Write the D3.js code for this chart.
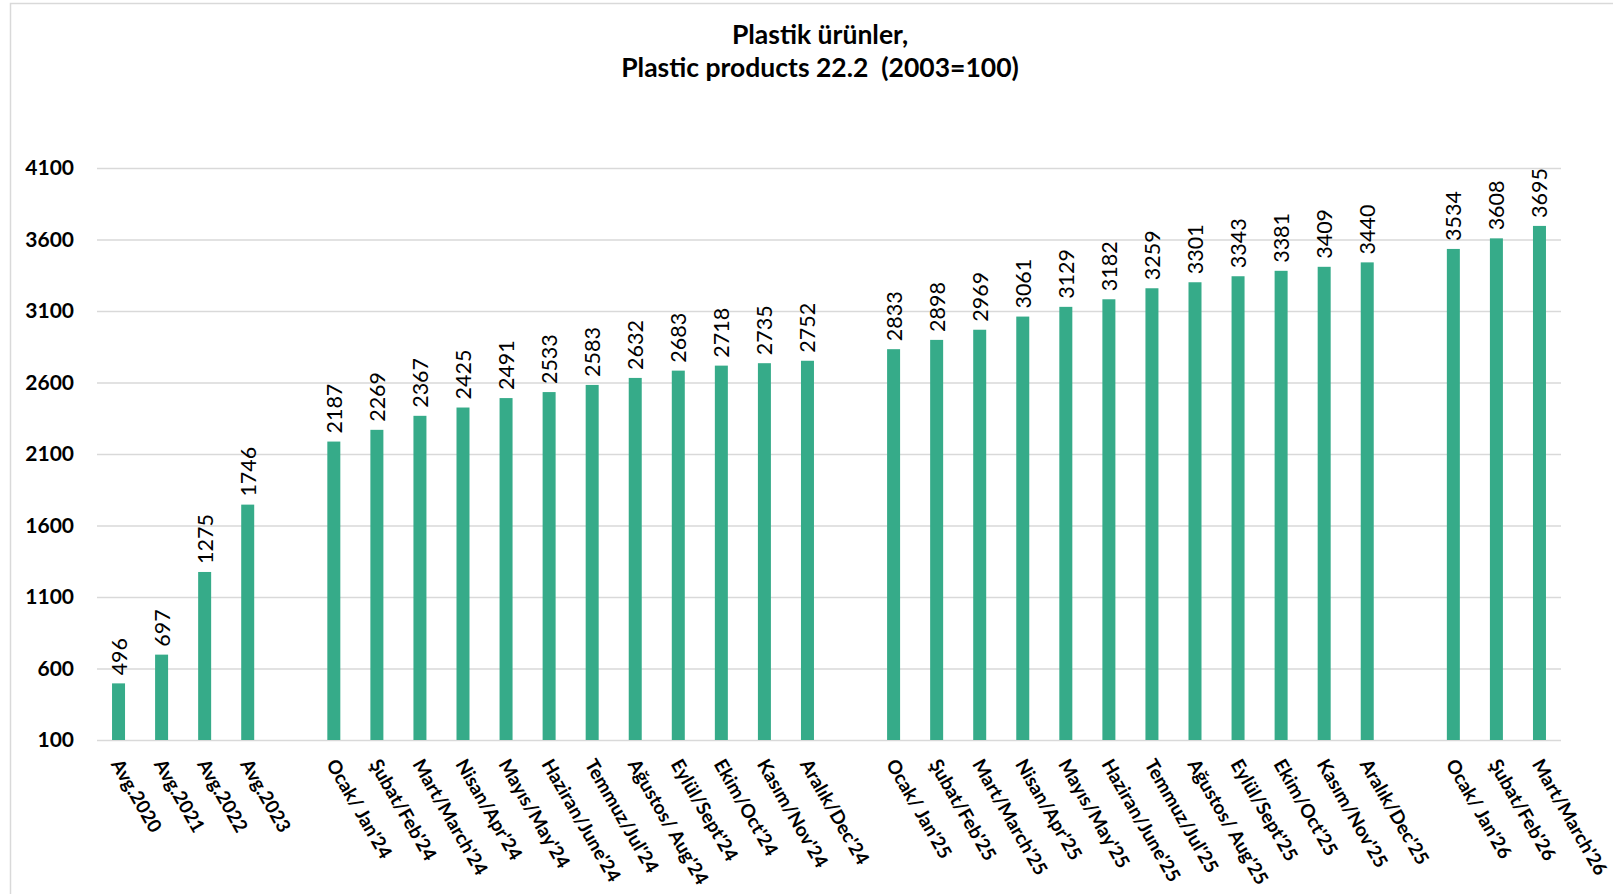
<!DOCTYPE html>
<html>
<head>
<meta charset="utf-8">
<script src="https://cdn.jsdelivr.net/npm/d3@7"></script>
<style>
  body { margin: 0; background: #fff; }
  text { font-family: Lato, "Noto Sans", sans-serif; }
</style>
</head>
<body>
<script>
  // kategoriler ("" = boşluk)
  let categories = [
    'Avg.2020', 'Avg.2021', 'Avg.2022', 'Avg.2023', '',
    'Ocak/ Jan\'24', 'Şubat/Feb\'24', 'Mart/March\'24', 'Nisan/Apr\'24', 'Mayıs/May\'24', 'Haziran/June\'24',
    'Temmuz/Jul\'24', 'Ağustos/ Aug\'24', 'Eylül/Sept\'24', 'Ekim/Oct\'24', 'Kasım/Nov\'24', 'Aralık/Dec\'24', '',
    'Ocak/ Jan\'25', 'Şubat/Feb\'25', 'Mart/March\'25', 'Nisan/Apr\'25', 'Mayıs/May\'25', 'Haziran/June\'25',
    'Temmuz/Jul\'25', 'Ağustos/ Aug\'25', 'Eylül/Sept\'25', 'Ekim/Oct\'25', 'Kasım/Nov\'25', 'Aralık/Dec\'25', '',
    'Ocak/ Jan\'26', 'Şubat/Feb\'26', 'Mart/March\'26'
  ];
  let values = [
    496, 697, 1275, 1746, null,
    2187, 2269, 2367, 2425, 2491, 2533, 2583, 2632, 2683, 2718, 2735, 2752, null,
    2833, 2898, 2969, 3061, 3129, 3182, 3259, 3301, 3343, 3381, 3409, 3440, null,
    3534, 3608, 3695
  ];
  let yTicks = [100, 600, 1100, 1600, 2100, 2600, 3100, 3600, 4100];
  let titleLines = ['Plastik ürünler,', 'Plastic products 22.2  (2003=100)'];

  let W = 1613, H = 894;
  let svg = d3.select('body').append('svg').attr('width', W).attr('height', H);

  // çerçeve
  svg.append('rect')
    .attr('x', 10.5).attr('y', 3.5).attr('width', W + 20).attr('height', H + 20)
    .style('fill', 'none').style('stroke', '#d9d9d9').style('stroke-width', 1.5);

  let pL = 97, pR = 1561, pT = 168, pB = 740;

  let x = d3.scaleBand().domain(d3.range(categories.length)).range([pL, pR]).padding(0);
  let y = d3.scaleLinear().domain([100, 4100]).range([pB, pT]);
  let barW = 13;

  // başlık
  svg.selectAll('.title').data(titleLines).enter().append('text')
    .attr('x', 820).attr('y', function (d, i) { return 44 + i * 33; })
    .attr('text-anchor', 'middle')
    .style('white-space', 'pre')
    .style('font-size', '26.5px').style('font-weight', 'bold').style('fill', '#000')
    .text(function (d) { return d; });

  // grid
  let yAxis = d3.axisLeft(y).tickValues(yTicks).tickFormat(d3.format('d'))
    .tickSize(-(pR - pL)).tickPadding(23);
  let gy = svg.append('g').attr('transform', 'translate(' + pL + ',0)').call(yAxis);
  gy.select('.domain').remove();
  gy.selectAll('line').style('stroke', '#d9d9d9').style('stroke-width', 1.5);
  gy.selectAll('text')
    .style('font-size', '21px').style('font-weight', 'bold').style('fill', '#000');

  // barlar
  let data = values.map(function (v, i) { return { i: i, v: v, c: categories[i] }; })
    .filter(function (d) { return d.v !== null; });

  svg.selectAll('.bar').data(data).enter().append('rect')
    .attr('x', function (d) { return x(d.i) + x.bandwidth() / 2 - barW / 2; })
    .attr('y', function (d) { return y(d.v); })
    .attr('width', barW)
    .attr('height', function (d) { return y(100) - y(d.v); })
    .style('fill', '#36ab89');

  // değer etiketleri
  svg.selectAll('.val').data(data).enter().append('text')
    .attr('transform', function (d) {
      return 'translate(' + (x(d.i) + x.bandwidth() / 2 + 8) + ',' + (y(d.v) - 8) + ') rotate(-90)';
    })
    .style('font-size', '21.5px').style('fill', '#000')
    .text(function (d) { return d.v; });

  // x etiketleri
  svg.selectAll('.xl').data(data).enter().append('text')
    .attr('transform', function (d) {
      return 'translate(' + (x(d.i) + x.bandwidth() / 2 - 8) + ',' + (pB + 24) + ') rotate(60)';
    })
    .style('font-size', '19px').style('font-weight', 'bold').style('fill', '#000')
    .text(function (d) { return d.c; });
</script>
</body>
</html>
